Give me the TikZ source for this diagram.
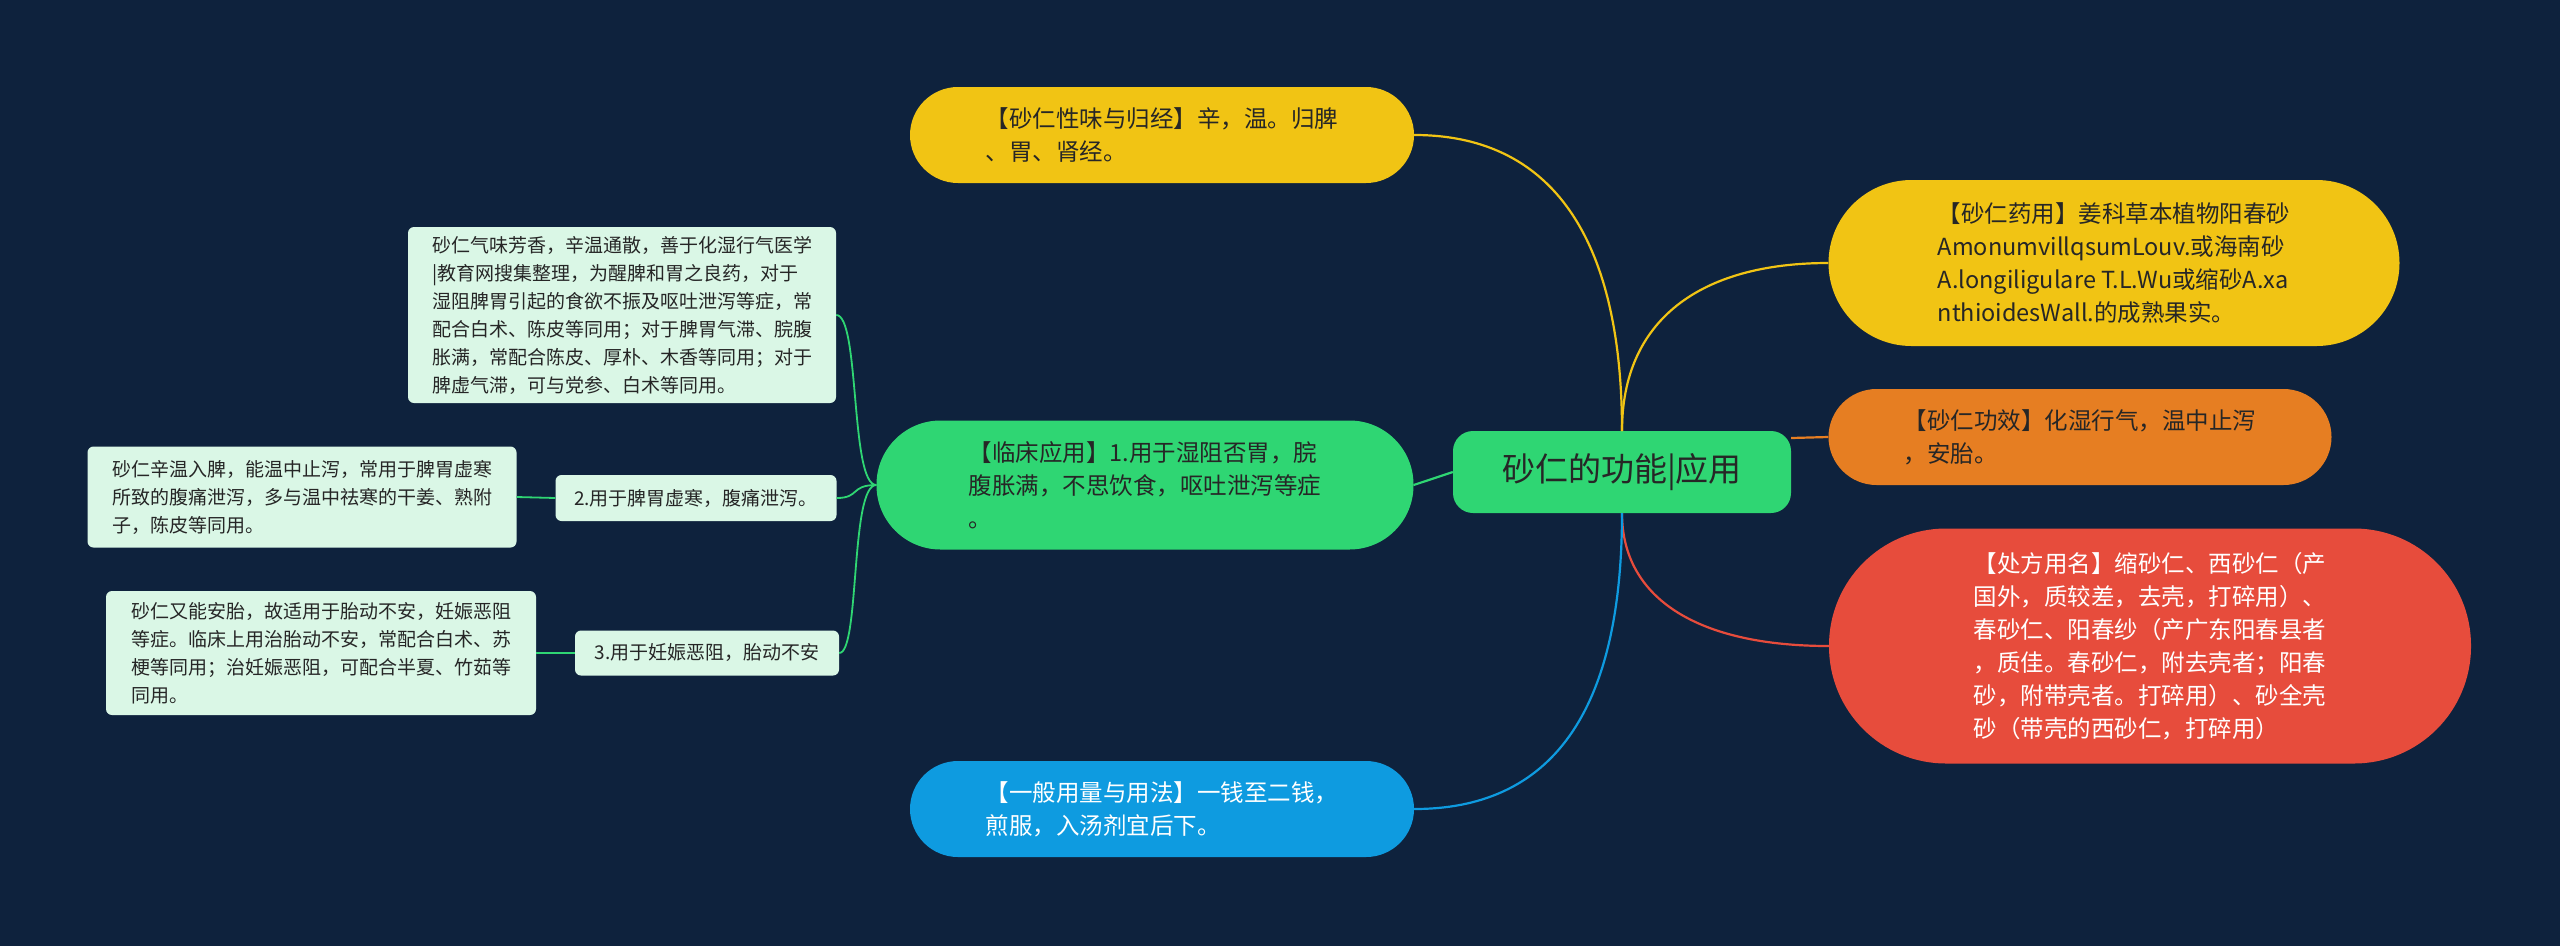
\documentclass[tikz,border=0pt]{standalone}
\usepackage{fontspec}
\setmainfont{Noto Sans CJK SC}
\begin{document}
\begin{tikzpicture}[x=1pt,y=-1pt,
  box/.style={draw=none,align=left,inner sep=0pt},
  sub/.style={box,fill=mint,rounded corners=6pt,font=\fontsize{19}{28}\selectfont,text=black!85},
  big/.style={box,font=\fontsize{23.5}{33}\selectfont},
  ln/.style={line width=2.2pt}]
\definecolor{bg}{HTML}{0E223D}
\definecolor{gr}{HTML}{2FD673}
\definecolor{ye}{HTML}{F1C414}
\definecolor{orn}{HTML}{E67E22}
\definecolor{rd}{HTML}{E74C3C}
\definecolor{bl}{HTML}{0E9BE0}
\definecolor{mint}{HTML}{DAF7E6}
\fill[bg] (0,0) rectangle (2560,946);
\useasboundingbox (0,0) rectangle (2560,946);
% main nodes
\node[box,fill=gr,rounded corners=20pt,minimum width=338pt,minimum height=82pt,font=\fontsize{33}{40}\selectfont,text=black!85] (c) at (1622,472) {砂仁的功能|应用};
\node[big,fill=ye,rounded corners=48pt,minimum width=504pt,minimum height=96pt,text=black!85] (top) at (1162,135) {【砂仁性味与归经】辛，温。归脾\\、胃、肾经。};
\node[big,fill=ye,rounded corners=83pt,minimum width=571pt,minimum height=166pt,text=black!85] (r1) at (2114,263) {【砂仁药用】姜科草本植物阳春砂\\AmonumvillqsumLouv.或海南砂\\A.longiligulare T.L.Wu或缩砂A.xa\\nthioidesWall.的成熟果实。};
\node[big,fill=orn,rounded corners=48pt,minimum width=503pt,minimum height=96pt,text=black!85] (r2) at (2080,437) {【砂仁功效】化湿行气，温中止泻\\，安胎。};
\node[big,fill=rd,rounded corners=117pt,minimum width=642pt,minimum height=235pt,text=white] (r3) at (2150,646) {【处方用名】缩砂仁、西砂仁（产\\国外，质较差，去壳，打碎用）、\\春砂仁、阳春纱（产广东阳春县者\\，质佳。春砂仁，附去壳者；阳春\\砂，附带壳者。打碎用）、砂全壳\\砂（带壳的西砂仁，打碎用）};
\node[big,fill=bl,rounded corners=48pt,minimum width=504pt,minimum height=96pt,text=white] (bt) at (1162,809) {【一般用量与用法】一钱至二钱，\\煎服，入汤剂宜后下。};
\node[big,fill=gr,rounded corners=64pt,minimum width=537pt,minimum height=129pt,text=black!85] (lc) at (1145,485) {【临床应用】1.用于湿阻否胃，脘\\腹胀满，不思饮食，呕吐泄泻等症\\。};
% sub nodes
\node[sub,minimum width=428pt,minimum height=176pt] (t1) at (622,315) {砂仁气味芳香，辛温通散，善于化湿行气医学\\|教育网搜集整理，为醒脾和胃之良药，对于\\湿阻脾胃引起的食欲不振及呕吐泄泻等症，常\\配合白术、陈皮等同用；对于脾胃气滞、脘腹\\胀满，常配合陈皮、厚朴、木香等同用；对于\\脾虚气滞，可与党参、白术等同用。};
\node[sub,minimum width=281pt,minimum height=46pt] (c2) at (696,498) {2.用于脾胃虚寒，腹痛泄泻。};
\node[sub,minimum width=429pt,minimum height=101pt] (t2) at (302,497) {砂仁辛温入脾，能温中止泻，常用于脾胃虚寒\\所致的腹痛泄泻，多与温中祛寒的干姜、熟附\\子，陈皮等同用。};
\node[sub,minimum width=264pt,minimum height=45pt] (c3) at (707,653) {3.用于妊娠恶阻，胎动不安};
\node[sub,minimum width=430pt,minimum height=124pt] (t3) at (321,653) {砂仁又能安胎，故适用于胎动不安，妊娠恶阻\\等症。临床上用治胎动不安，常配合白术、苏\\梗等同用；治妊娠恶阻，可配合半夏、竹茹等\\同用。};
% connectors
\coordinate (ct) at (1622,431);
\coordinate (cb) at (1622,513);
\draw[ln,ye] (ct) .. controls (1622,250) and (1560,135) .. (top.east);
\draw[ln,ye] (ct) .. controls (1622,320) and (1700,263) .. (r1.west);
\draw[ln,orn] (c.east) ++(0,-34) coordinate (ce) (ce) -- (r2.west);
\draw[ln,rd] (cb) .. controls (1622,600) and (1700,646) .. (r3.west);
\draw[ln,bl] (cb) .. controls (1622,700) and (1560,809) .. (bt.east);
\draw[ln,gr] (c.west) -- (lc.east);
\draw[ln,gr,line width=1.8pt] (lc.west) .. controls (850,485) and (860,315) .. (t1.east);
\draw[ln,gr,line width=1.8pt] (lc.west) .. controls (850,485) and (860,498) .. (c2.east);
\draw[ln,gr,line width=1.8pt] (lc.west) .. controls (850,485) and (860,653) .. (c3.east);
\draw[ln,gr,line width=1.8pt] (c2.west) -- (t2.east);
\draw[ln,gr,line width=1.8pt] (c3.west) -- (t3.east);
\end{tikzpicture}
\end{document}
